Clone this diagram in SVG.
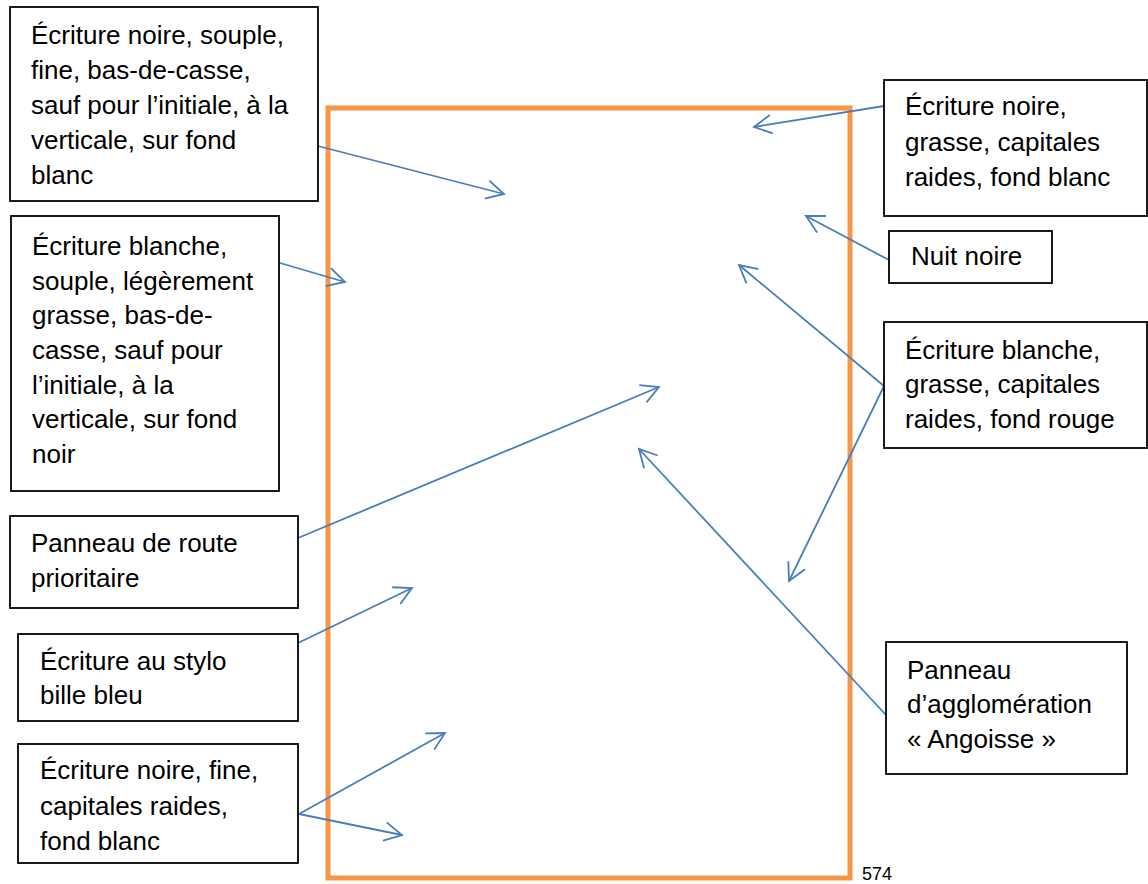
<svg xmlns="http://www.w3.org/2000/svg" width="1148" height="884" viewBox="0 0 1148 884">
<style>
.box{fill:#fff;stroke:#000;stroke-width:1.8}
.t{font-family:"Liberation Sans",Arial,sans-serif;font-size:26px;fill:#000}
.c{fill:none;stroke:#4A7EBB;stroke-width:1.8;marker-end:url(#ah)}
</style>
<defs>
<marker id="ah" markerUnits="userSpaceOnUse" markerWidth="24" markerHeight="24" refX="0" refY="0" orient="auto" overflow="visible">
<path d="M-17.5,-9.3 L0,0 L-17.5,9.3" fill="none" stroke="#4A7EBB" stroke-width="1.8"/>
</marker>
</defs>
<rect width="1148" height="884" fill="#fff"/>
<rect id="frame" x="328" y="108" width="522" height="770" fill="none" stroke="#F79646" stroke-width="5"/>
<g id="connectors">
<line class="c" x1="318" y1="146" x2="504" y2="194"/>
<line class="c" x1="280" y1="263" x2="345" y2="282"/>
<line class="c" x1="884" y1="106" x2="754" y2="127"/>
<line class="c" x1="889" y1="260" x2="806" y2="216"/>
<line class="c" x1="884" y1="386" x2="739" y2="265"/>
<line class="c" x1="884" y1="386" x2="789" y2="581"/>
<line class="c" x1="298" y1="538" x2="659" y2="387"/>
<line class="c" x1="886" y1="715" x2="639" y2="449"/>
<line class="c" x1="298" y1="643" x2="412" y2="588"/>
<line class="c" x1="299" y1="814" x2="445" y2="733"/>
<line class="c" x1="299" y1="814" x2="402" y2="835"/>
</g>
<g id="n1">
<rect class="box" x="10" y="7" width="308" height="194"/>
<text class="t" x="31"><tspan x="31" y="44">Écriture noire, souple,</tspan><tspan x="31" y="79">fine, bas-de-casse,</tspan><tspan x="31" y="114">sauf pour l’initiale, à la</tspan><tspan x="31" y="149">verticale, sur fond</tspan><tspan x="31" y="184">blanc</tspan></text>
</g>
<g id="n2">
<rect class="box" x="11" y="216" width="268" height="275"/>
<text class="t"><tspan x="32" y="255">Écriture blanche,</tspan><tspan x="32" y="290">souple, légèrement</tspan><tspan x="32" y="324">grasse, bas-de-</tspan><tspan x="32" y="359">casse, sauf pour</tspan><tspan x="32" y="394">l’initiale, à la</tspan><tspan x="32" y="428">verticale, sur fond</tspan><tspan x="32" y="463">noir</tspan></text>
</g>
<g id="n3">
<rect class="box" x="10" y="516" width="288" height="92"/>
<text class="t"><tspan x="31" y="552">Panneau de route</tspan><tspan x="31" y="587">prioritaire</tspan></text>
</g>
<g id="n4">
<rect class="box" x="18" y="634" width="280" height="87"/>
<text class="t"><tspan x="40" y="670">Écriture au stylo</tspan><tspan x="40" y="704">bille bleu</tspan></text>
</g>
<g id="n5">
<rect class="box" x="18" y="744" width="280" height="119"/>
<text class="t"><tspan x="40" y="779">Écriture noire, fine,</tspan><tspan x="40" y="815">capitales raides,</tspan><tspan x="40" y="850">fond blanc</tspan></text>
</g>
<g id="n6">
<rect class="box" x="884" y="80" width="263" height="136"/>
<text class="t"><tspan x="905" y="115">Écriture noire,</tspan><tspan x="905" y="151">grasse, capitales</tspan><tspan x="905" y="186">raides, fond blanc</tspan></text>
</g>
<g id="n7">
<rect class="box" x="889" y="231" width="163" height="52"/>
<text class="t" x="911" y="265">Nuit noire</text>
</g>
<g id="n8">
<rect class="box" x="884" y="322" width="263" height="126"/>
<text class="t"><tspan x="905" y="359">Écriture blanche,</tspan><tspan x="905" y="393">grasse, capitales</tspan><tspan x="905" y="428">raides, fond rouge</tspan></text>
</g>
<g id="n9">
<rect class="box" x="886" y="642" width="241" height="132"/>
<text class="t"><tspan x="907" y="679">Panneau</tspan><tspan x="907" y="713">d’agglomération</tspan><tspan x="907" y="748">« Angoisse »</tspan></text>
</g>
<text id="pagenum" x="862" y="880" font-family="Liberation Sans,Arial,sans-serif" font-size="18" fill="#000">574</text>
</svg>
